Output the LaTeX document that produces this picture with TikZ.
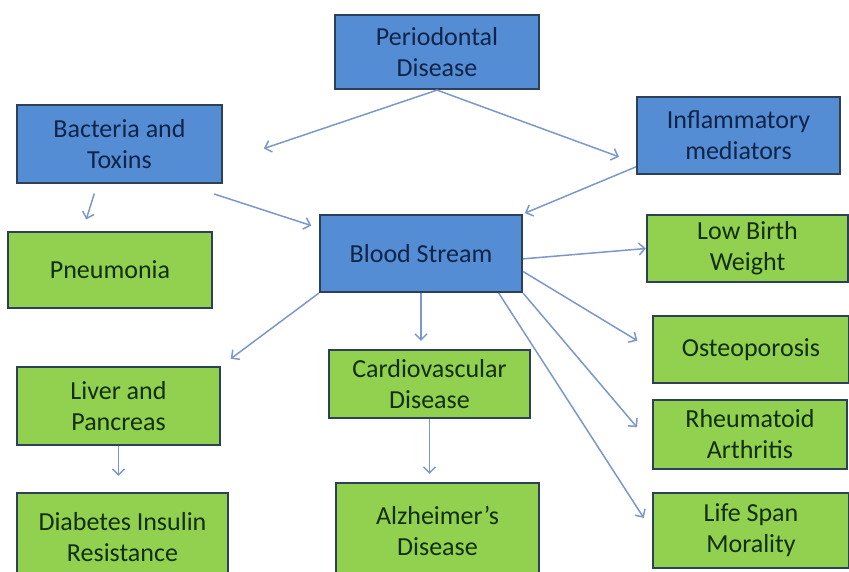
\documentclass[tikz,border=0pt]{standalone}
\usepackage{fontspec}
\setmainfont{Carlito}
\usetikzlibrary{arrows.meta}
\definecolor{boxblue}{RGB}{84,141,212}
\definecolor{boxgreen}{RGB}{146,208,80}
\definecolor{boxline}{RGB}{44,64,88}
\definecolor{bluetext}{RGB}{16,36,72}
\definecolor{greentext}{RGB}{18,46,10}
\definecolor{arrowblue}{RGB}{124,152,202}
\begin{document}
\begin{tikzpicture}[x=1pt,y=-1pt,
    box/.style={draw=boxline,line width=2.2pt,inner sep=0pt,align=center,font=\fontsize{26}{31}\selectfont},
    bluebox/.style={box,fill=boxblue,text=bluetext},
    greenbox/.style={box,fill=boxgreen,text=greentext}]
  \useasboundingbox (0,0) rectangle (849,571);
  \clip (0,0) rectangle (849,571);
  \draw
    (437,52) node[bluebox,minimum width=204pt,minimum height=74pt] (per) {Periodontal\\Disease}
    (119.5,144) node[bluebox,minimum width=205pt,minimum height=78pt] (bac) {Bacteria and\\Toxins}
    (738.5,135.5) node[bluebox,minimum width=203pt,minimum height=77pt] (inf) {Inflammatory\\mediators}
    (421,253.5) node[bluebox,minimum width=202pt,minimum height=77pt] (blood) {Blood Stream}
    (110,270) node[greenbox,minimum width=204pt,minimum height=76pt] (pneu) {Pneumonia}
    (747.5,248.5) node[greenbox,minimum width=201pt,minimum height=67pt] (lbw) {Low Birth\\Weight}
    (751,349.5) node[greenbox,minimum width=196pt,minimum height=67pt] (ost) {Osteoporosis}
    (118.5,406) node[greenbox,minimum width=203pt,minimum height=78pt] (liv) {Liver and\\Pancreas}
    (429.5,384) node[greenbox,minimum width=201pt,minimum height=68pt] (car) {Cardiovascular\\Disease}
    (750,434.5) node[greenbox,minimum width=194pt,minimum height=69pt] (rhe) {Rheumatoid\\Arthritis}
    (122.5,537) node[greenbox,minimum width=211pt,minimum height=88pt] (dia) {Diabetes Insulin\\Resistance}
    (437.5,531) node[greenbox,minimum width=203pt,minimum height=96pt] (alz) {Alzheimer’s\\Disease}
    (751,530.5) node[greenbox,minimum width=196pt,minimum height=75pt] (life) {Life Span\\Morality};
  \begin{scope}[-{Straight Barb[length=6pt,width=12pt]},draw=arrowblue,line width=1.5pt]
    \draw[shorten >=43pt] (per.south) -- (bac.-10);
    \draw[shorten >=18pt] (per.south) -- (inf.195);
    \draw[shorten <=10pt,shorten >=12pt] (bac.-119) -- (pneu.125);
    \draw[shorten <=32pt,shorten >=8pt] (bac.-32) -- (blood.166);
    \draw[shorten >=2pt] (inf.197) -- (blood.north east);
    \draw (blood.-3) -- (lbw.west);
    \draw[shorten >=17pt] (blood.-10) -- (ost.west);
    \draw[shorten >=23pt] (blood.south east) -- (rhe.186);
    \draw[shorten >=15pt] (blood.-27) -- (life.west);
    \draw[shorten >=8pt] (blood.south) -- (blood.south |- car.north);
    \draw[shorten >=12pt] (blood.south west) -- (liv.north east);
    \draw[shorten >=16pt] (liv.south) -- (liv.south |- dia.north);
    \draw[shorten >=8pt] (car.south) -- (car.south |- alz.north);
  \end{scope}
\end{tikzpicture}
\end{document}
